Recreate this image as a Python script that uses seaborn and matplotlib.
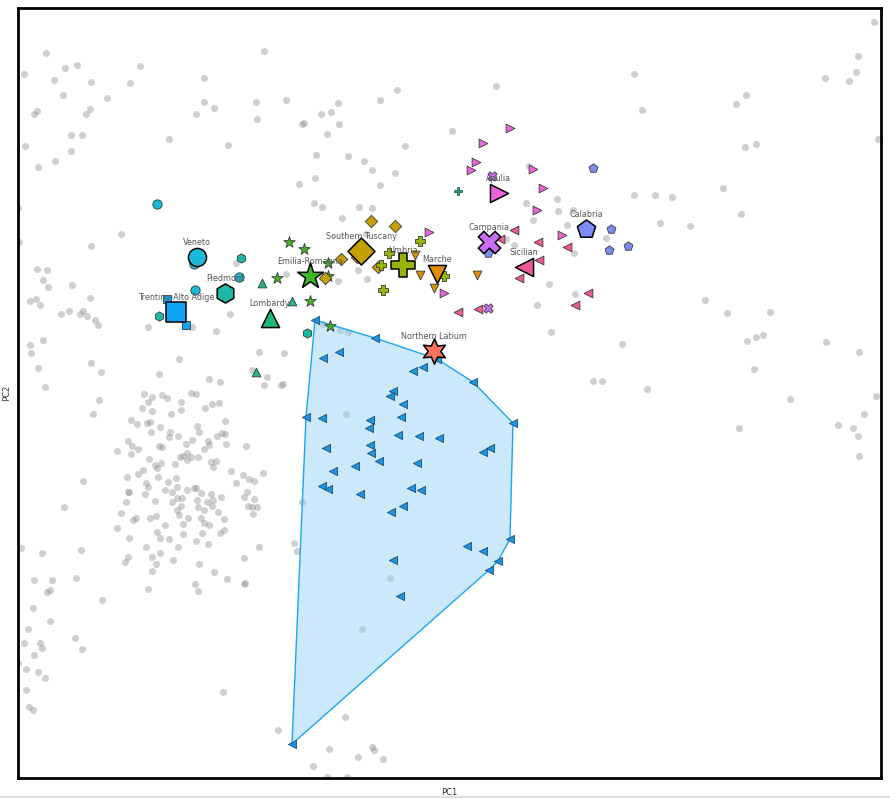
import numpy as np
import matplotlib
matplotlib.use("Agg")
import matplotlib.pyplot as plt
import seaborn as sns
from matplotlib.patches import Polygon

sns.set_style("white")

# background samples (PC1, PC2, screen units, PC2 axis inverted)
bg_points = [
    (46, 53), (264, 51), (65, 68), (77, 65), (140, 66), (24, 74), (54, 80), (91, 82), (130, 83), (204, 78),
    (63, 95), (107, 98), (204, 102), (214, 108), (256, 102), (286, 100), (338, 103), (380, 100), (397, 90),
    (34, 114), (37, 111), (86, 114), (90, 109), (196, 114), (257, 119), (321, 114), (331, 112), (302, 124),
    (304, 123), (339, 124), (71, 135), (82, 135), (169, 139), (327, 134), (452, 131), (25, 146), (71, 151),
    (228, 145), (405, 146), (55, 161), (316, 155), (348, 156), (364, 161), (38, 167), (372, 170), (395, 173),
    (299, 184), (315, 178), (380, 185), (18, 208), (314, 203), (322, 207), (359, 207), (372, 208), (342, 218),
    (121, 234), (19, 242), (91, 246), (236, 263), (366, 234), (358, 270), (338, 281), (367, 279), (286, 274),
    (37, 269), (47, 270), (43, 280), (48, 287), (72, 285), (30, 301), (36, 299), (40, 305), (90, 298),
    (61, 314), (69, 311), (80, 314), (83, 311), (87, 316), (95, 320), (98, 325), (148, 327), (192, 327),
    (216, 331), (230, 314), (323, 324), (340, 330), (348, 332), (30, 345), (43, 340), (31, 353), (91, 363),
    (179, 359), (259, 352), (284, 353), (283, 384), (38, 368), (101, 372), (159, 374), (252, 370), (267, 377),
    (209, 379), (220, 382), (264, 385), (281, 385), (45, 387), (346, 414),
    (874, 22), (858, 56), (856, 72), (849, 81), (825, 78), (634, 74), (746, 95), (736, 104), (642, 110),
    (496, 86), (878, 139), (745, 147), (756, 144), (529, 166), (723, 188), (634, 195), (655, 195), (672, 197),
    (526, 203), (557, 199), (558, 211), (573, 210), (741, 214), (533, 220), (567, 225), (660, 223), (690, 226),
    (606, 238), (506, 239), (514, 245), (574, 253), (549, 284), (575, 294), (537, 305), (705, 300), (727, 313),
    (770, 312), (551, 332), (622, 344), (747, 341), (756, 337), (763, 335), (826, 342), (859, 352), (754, 369),
    (593, 381), (602, 381), (647, 389), (790, 399), (876, 396), (864, 414), (838, 425), (853, 428), (858, 436),
    (859, 456), (739, 428),
    (99, 400), (144, 394), (152, 397), (162, 395), (167, 398), (181, 402), (191, 393), (196, 394), (212, 404),
    (219, 403), (148, 402), (93, 414), (142, 408), (152, 411), (171, 414), (181, 410), (205, 408),
    (131, 420), (137, 424), (147, 423), (150, 422), (160, 427), (151, 432), (170, 432), (178, 436), (169, 437),
    (197, 426), (199, 432), (225, 421), (222, 433), (225, 434), (217, 436), (192, 440), (186, 444), (128, 441),
    (132, 446), (159, 446), (162, 447), (138, 449), (117, 451), (208, 441), (209, 445), (204, 449), (226, 444),
    (246, 446), (131, 454), (187, 453), (180, 457), (183, 456), (191, 457), (198, 457), (187, 460), (149, 459),
    (175, 464), (211, 462), (216, 461), (213, 467), (161, 463), (155, 465), (157, 468), (143, 470), (138, 474),
    (127, 477), (158, 477), (176, 478), (231, 471), (243, 475), (249, 479), (254, 481), (263, 473), (83, 481),
    (146, 483), (168, 482), (148, 487), (177, 487), (165, 490), (172, 492), (187, 490), (194, 488), (196, 488),
    (201, 493), (128, 492), (129, 492), (145, 494), (177, 498), (182, 498), (211, 494), (213, 500), (221, 497),
    (236, 483), (247, 492), (244, 497), (254, 499), (155, 501), (172, 502), (181, 506), (177, 510), (197, 500),
    (207, 502), (126, 502), (198, 507), (204, 510), (212, 506), (218, 512), (248, 506), (252, 507), (257, 507),
    (253, 514), (64, 507), (121, 513), (133, 520), (136, 518), (150, 518), (156, 516), (179, 515), (188, 518),
    (201, 518), (204, 523), (209, 525), (224, 519), (165, 525), (183, 524), (117, 528), (129, 538), (157, 532),
    (160, 538), (169, 539), (183, 534), (196, 541), (202, 533), (208, 544), (220, 533), (224, 530), (146, 547),
    (160, 553), (178, 547), (152, 557), (156, 564), (152, 571), (128, 557), (125, 562), (173, 560), (199, 564),
    (214, 572), (244, 558), (259, 547), (294, 543), (297, 551), (21, 548), (42, 553), (81, 550), (34, 580),
    (52, 580), (47, 592), (50, 590), (76, 578), (102, 600), (148, 589), (195, 584), (198, 591), (227, 579),
    (244, 584), (245, 583), (33, 608), (50, 621), (28, 629), (24, 643), (40, 643), (42, 648), (34, 655),
    (75, 638), (82, 649), (18, 663), (26, 669), (38, 672), (45, 678), (26, 690), (29, 707), (33, 710),
    (223, 692), (302, 502), (390, 578), (362, 629), (278, 730), (345, 717), (329, 749), (358, 757), (372, 747),
    (374, 750), (383, 759), (313, 766), (327, 777), (347, 777),
]
bg_pc1 = [p[0] for p in bg_points]
bg_pc2 = [p[1] for p in bg_points]

# highlighted group with convex hull
hull_pc1 = [315, 375, 323, 339, 437, 413, 423, 473, 393, 390, 403, 306, 322, 370, 369, 401, 398, 419, 439,
            513, 326, 370, 371, 483, 490, 379, 417, 355, 333, 322, 328, 360, 411, 421, 403, 391, 510, 467,
            483, 498, 489, 393, 400, 292]
hull_pc2 = [320, 338, 358, 352, 359, 371, 367, 382, 391, 396, 404, 417, 418, 420, 428, 417, 435, 436, 438,
            423, 448, 445, 453, 452, 448, 461, 463, 466, 471, 486, 489, 494, 488, 490, 506, 512, 539, 546,
            551, 561, 570, 560, 596, 744]

# regional samples
regions = ["Veneto", "Piedmont", "Trentino-Alto Adige", "Lombardy", "Emilia-Romagna", "Southern Tuscany",
           "Umbria", "Marche", "Apulia", "Campania", "Sicilian", "Calabria", "Northern Latium"]
members_pc1 = [
    [157, 194, 239, 195],
    [241, 159, 307],
    [167, 186],
    [262, 292, 256],
    [289, 304, 277, 310, 328, 328, 330],
    [371, 395, 341, 378, 325, 357],
    [420, 389, 381, 383, 444],
    [415, 420, 434, 477],
    [510, 483, 476, 471, 533, 543, 537, 562, 429, 444],
    [492, 488],
    [514, 500, 538, 567, 539, 519, 588, 575, 478, 458],
    [593, 611, 609, 628, 488],
    [],
]
members_pc2 = [
    [204, 264, 277, 290],
    [258, 316, 333],
    [299, 325],
    [283, 301, 372],
    [242, 249, 278, 301, 263, 276, 326],
    [221, 226, 259, 267, 278, 257],
    [241, 253, 265, 290, 276],
    [255, 275, 288, 275],
    [128, 143, 162, 170, 169, 188, 210, 235, 232, 293],
    [176, 308],
    [230, 239, 242, 247, 260, 278, 293, 305, 309, 312],
    [168, 229, 250, 246, 253],
    [],
]
centroid_pc1 = [197, 225, 176, 270, 310, 361, 403, 437, 499, 489, 524, 586, 434]
centroid_pc2 = [257, 293, 312, 318, 276, 251, 265, 274, 193, 242, 267, 229, 351]

# one stray sample of an unlabelled region
stray_pc1 = [458]
stray_pc2 = [191]

colors = ["#19b9d7", "#1ab9a5", "#0fa5f5", "#1eb978", "#3cb91e", "#c3a000", "#96b400", "#e18c0a",
          "#ee62dc", "#c86ef5", "#ef5a96", "#7d8cf5", "#f5735f"]
markers = ["o", "h", "s", "^", "*", "D", "P", "v", ">", "X", "<", "p", (6, 1, 0)]
centroid_sizes = [170, 190, 200, 170, 380, 190, 300, 170, 170, 260, 170, 190, 330]
member_sizes = [45, 45, 40, 40, 75, 40, 50, 40, 40, 45, 40, 45, 40]

fig = plt.figure(figsize=(8.9, 7.99), dpi=100)
ax = fig.add_axes([18 / 890, 1 - 778 / 799, 863 / 890, 770 / 799])

sns.scatterplot(x=bg_pc1, y=bg_pc2, color="#8a8a8a", alpha=0.4, s=26, linewidth=0, ax=ax, zorder=1)

# convex hull of highlighted group
pts = sorted(set(zip(hull_pc1, hull_pc2)))


def cross(o, a, b):
    return (a[0] - o[0]) * (b[1] - o[1]) - (a[1] - o[1]) * (b[0] - o[0])


lower, upper = [], []
for p in pts:
    while len(lower) >= 2 and cross(lower[-2], lower[-1], p) <= 0:
        lower.pop()
    lower.append(p)
for p in reversed(pts):
    while len(upper) >= 2 and cross(upper[-2], upper[-1], p) <= 0:
        upper.pop()
    upper.append(p)
hull = lower[:-1] + upper[:-1]
ax.add_patch(Polygon(hull, closed=True, facecolor="#8fd0f8", alpha=0.45, edgecolor="none", zorder=2))
ax.add_patch(Polygon(hull, closed=True, facecolor="none", edgecolor="#1aa7f2", linewidth=1.0, zorder=3))

sns.scatterplot(x=hull_pc1, y=hull_pc2, marker="<", color="#1996e1", s=35,
                edgecolor="#1f4f78", linewidth=0.6, ax=ax, zorder=4)

sns.scatterplot(x=stray_pc1, y=stray_pc2, marker="P", color="#1aa082", s=40,
                edgecolor="#1f4f40", linewidth=0.5, ax=ax, zorder=4)

for i, name in enumerate(regions):
    if members_pc1[i]:
        sns.scatterplot(x=members_pc1[i], y=members_pc2[i], marker=markers[i], color=colors[i],
                        s=member_sizes[i], edgecolor="#3a3a3a", linewidth=0.6, ax=ax, zorder=5)

for i, name in enumerate(regions):
    sns.scatterplot(x=[centroid_pc1[i]], y=[centroid_pc2[i]], marker=markers[i], color=colors[i],
                    s=centroid_sizes[i], edgecolor="black", linewidth=1.1, ax=ax, zorder=6)
    ax.annotate(name, (centroid_pc1[i], centroid_pc2[i]), xytext=(0, 7), textcoords="offset points",
                ha="center", va="bottom", fontsize=5.8, color="#555555", zorder=7)

ax.set_xlim(18, 881)
ax.set_ylim(778, 8)
ax.set_xticks([])
ax.set_yticks([])
for side in ax.spines.values():
    side.set_color("black")
    side.set_linewidth(2)
ax.set_xlabel("PC1", fontsize=6, color="#333333", labelpad=7)
ax.set_ylabel("PC2", fontsize=6, color="#333333", labelpad=5)
ax.legend_ = None

fig.add_artist(plt.Line2D([0, 1], [0.002, 0.002], color="#dddddd", linewidth=1.5))

fig.savefig("out.png", dpi=100)
